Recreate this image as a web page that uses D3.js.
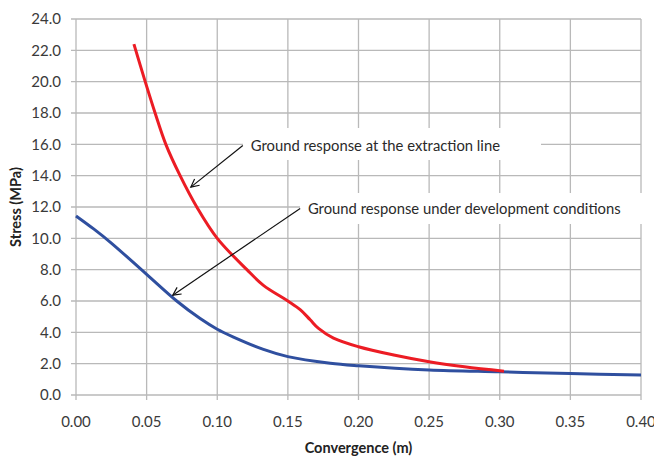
<!DOCTYPE html>
<html>
<head>
<meta charset="utf-8">
<script src="https://cdn.jsdelivr.net/npm/d3@7"></script>
<style>
  body { margin: 0; background: #fff; }
  text { font-family: Lato, "Open Sans", sans-serif; }
</style>
</head>
<body>
<svg id="chart" width="654" height="458" viewBox="0 0 654 458"></svg>
<script>
// extraction line curve (red)
const extractionConv = [0.041, 0.049, 0.056, 0.0636, 0.0737, 0.0855, 0.1, 0.121, 0.1327, 0.15, 0.1587, 0.1658, 0.1717, 0.1823, 0.2, 0.225, 0.25, 0.275, 0.303];
const extractionStress = [22.4, 20.0, 18.0, 16.0, 14.0, 12.0, 10.0, 8.0, 7.0, 6.0, 5.45, 4.8, 4.25, 3.63, 3.08, 2.55, 2.12, 1.8, 1.52];

// development conditions curve (blue)
const developConv = [0, 0.0125, 0.025, 0.05, 0.0713, 0.0879, 0.1, 0.1115, 0.1327, 0.15, 0.18, 0.2, 0.25, 0.3, 0.35, 0.4];
const developStress = [11.43, 10.6, 9.7, 7.7, 6.0, 4.88, 4.2, 3.7, 2.91, 2.45, 2.03, 1.87, 1.6, 1.48, 1.37, 1.28];

const xTicks = [0, 0.05, 0.10, 0.15, 0.20, 0.25, 0.30, 0.35, 0.40];
const yTicks = [0, 2, 4, 6, 8, 10, 12, 14, 16, 18, 20, 22, 24];

// annotation labels: text start / arrow tail / arrow tip in data units
const labelTexts = ["Ground response at the extraction line", "Ground response under development conditions"];
const labelAt = [[0.1237, 15.92], [0.1642, 11.91]];
const arrowTail = [[0.1181, 15.92], [0.1587, 11.91]];
const arrowTip = [[0.0813, 13.27], [0.0685, 6.37]];

const svg = d3.select("#chart");
const margin = { top: 19, right: 13, bottom: 63, left: 76 };
const width = 654, height = 458;

const x = d3.scaleLinear().domain([0, 0.4]).range([margin.left, width - margin.right]);
const y = d3.scaleLinear().domain([0, 24]).range([height - margin.bottom, margin.top]);

const gridColor = "#b9b9b9";

// gridlines
const grid = svg.append("g").attr("stroke", gridColor).attr("stroke-width", 1.3);
grid.selectAll(".hl")
  .data(yTicks)
  .enter()
  .append("line")
  .attr("x1", x(0) - 5)
  .attr("x2", x(0.4))
  .attr("y1", (d) => y(d))
  .attr("y2", (d) => y(d));
grid.selectAll(".vl")
  .data(xTicks)
  .enter()
  .append("line")
  .attr("x1", (d) => x(d))
  .attr("x2", (d) => x(d))
  .attr("y1", y(24))
  .attr("y2", y(0) + 5);

// tick labels
svg.append("g")
  .selectAll("text")
  .data(yTicks)
  .enter()
  .append("text")
  .attr("x", x(0) - 15)
  .attr("y", (d) => y(d))
  .attr("dy", "0.36em")
  .attr("text-anchor", "end")
  .attr("font-size", 15)
  .attr("fill", "#3a3a3a")
  .text((d) => d.toFixed(1));

svg.append("g")
  .selectAll("text")
  .data(xTicks)
  .enter()
  .append("text")
  .attr("x", (d) => x(d))
  .attr("y", 427)
  .attr("text-anchor", "middle")
  .attr("font-size", 15)
  .attr("fill", "#3a3a3a")
  .text((d) => d.toFixed(2));

// axis titles
svg.append("text")
  .attr("x", (x(0) + x(0.4)) / 2)
  .attr("y", 453)
  .attr("text-anchor", "middle")
  .attr("font-size", 14.5)
  .attr("font-weight", "bold")
  .attr("fill", "#222")
  .text("Convergence (m)");

svg.append("text")
  .attr("transform", `translate(21,${(y(0) + y(24)) / 2}) rotate(-90)`)
  .attr("text-anchor", "middle")
  .attr("font-size", 14.5)
  .attr("font-weight", "bold")
  .attr("fill", "#222")
  .text("Stress (MPa)");

// white label boxes that cut the gridlines
const boxes = [
  { x0: 243, x1: 541, y0: 128, y1: 160 },
  { x0: 300, x1: 643, y0: 193, y1: 224 }
];
svg.append("g")
  .selectAll("rect")
  .data(boxes)
  .enter()
  .append("rect")
  .attr("x", (d) => d.x0)
  .attr("y", (d) => d.y0)
  .attr("width", (d) => d.x1 - d.x0)
  .attr("height", (d) => d.y1 - d.y0)
  .attr("fill", "#fff");

// curves
const line = d3.line()
  .x((d) => x(d[0]))
  .y((d) => y(d[1]))
  .curve(d3.curveCatmullRom.alpha(0.5));

svg.append("path")
  .datum(developConv.map((c, i) => [c, developStress[i]]))
  .attr("d", line)
  .attr("fill", "none")
  .attr("stroke", "#2f4f9f")
  .attr("stroke-width", 3);

svg.append("path")
  .datum(extractionConv.map((c, i) => [c, extractionStress[i]]))
  .attr("d", line)
  .attr("fill", "none")
  .attr("stroke", "#ec1c24")
  .attr("stroke-width", 3);

// arrows
svg.append("defs")
  .append("marker")
  .attr("id", "head")
  .attr("viewBox", "-10 -6 12 12")
  .attr("markerWidth", 12)
  .attr("markerHeight", 12)
  .attr("markerUnits", "userSpaceOnUse")
  .attr("orient", "auto")
  .append("path")
  .attr("d", "M-8,-4 L0,0 L-8,4")
  .attr("fill", "none")
  .attr("stroke", "#111")
  .attr("stroke-width", 1.2);

svg.append("g")
  .selectAll("line")
  .data(arrowTail)
  .enter()
  .append("line")
  .attr("x1", (d) => x(d[0]))
  .attr("y1", (d) => y(d[1]))
  .attr("x2", (d, i) => x(arrowTip[i][0]))
  .attr("y2", (d, i) => y(arrowTip[i][1]))
  .attr("stroke", "#111")
  .attr("stroke-width", 1.2)
  .attr("marker-end", "url(#head)");

// label texts
svg.append("g")
  .selectAll("text")
  .data(labelTexts)
  .enter()
  .append("text")
  .attr("x", (d, i) => x(labelAt[i][0]))
  .attr("y", (d, i) => y(labelAt[i][1]))
  .attr("dy", "0.35em")
  .attr("font-size", 14.8)
  .attr("fill", "#2a2a2a")
  .text((d) => d);
</script>
</body>
</html>
